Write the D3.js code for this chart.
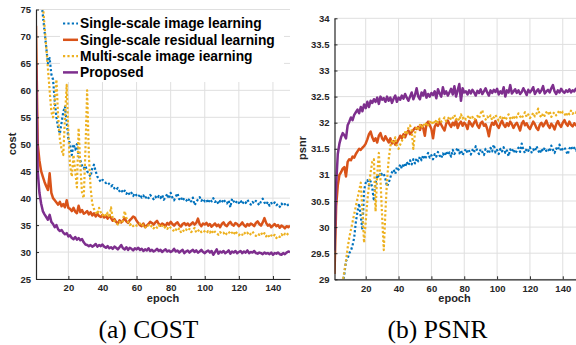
<!DOCTYPE html>
<html>
<head>
<meta charset="utf-8">
<script src="https://cdn.jsdelivr.net/npm/d3@7"></script>
<style>
  body { margin: 0; background: #fff; }
  svg { display: block; }
  text { font-family: "Liberation Sans", Arial, Helvetica, sans-serif; }
</style>
</head>
<body>
<svg id="chart" width="576" height="345"></svg>
<script>
// legend labels (typo "iearning" is in the original figure)
const seriesNames = ["Single-scale image learning", "Single-scale residual learning", "Multi-scale image iearning", "Proposed"];
const seriesColors = ["#0072BD", "#D95319", "#EDB120", "#7E2F8E"];
const seriesDotted = [true, false, true, false];

const epochTicks = [20, 40, 60, 80, 100, 120, 140];
const costTicks = [25, 30, 35, 40, 45, 50, 55, 60, 65, 70, 75];
const psnrTicks = [29, 29.5, 30, 30.5, 31, 31.5, 32, 32.5, 33, 33.5, 34];

// (a) cost per epoch, epochs 1..150
const costSingleImage = [
  92, 86, 81, 77, 74, 71, 68, 65, 66, 63,
  62, 58, 55, 53, 52, 54, 56, 57, 54, 51,
  50, 48, 50, 49, 50, 48, 47, 46, 45.5, 46,
  45, 44.5, 44, 45.5, 46.2, 45, 44, 43.5, 43, 43.4,
  43.2, 42.8, 43, 42.6, 42.2, 42.4, 41.8, 41.5, 41.9, 41.3,
  41.6, 41, 41.4, 40.8, 41.2, 40.6, 41, 40.4, 40.9, 40.5,
  40.2, 40.7, 40.1, 40.5, 39.9, 40.4, 40, 40.6, 40.2, 39.8,
  40.3, 39.9, 40.4, 40, 40.6, 39.7, 40.2, 40.8, 39.9, 41,
  40.1, 39.6, 40.3, 40.9, 39.8, 40.2, 39.5, 40, 39.7, 39.3,
  39.9, 39.4, 40.1, 38.7, 39.2, 39.8, 40.2, 39.5, 39.9, 39.4,
  39.7, 39.1, 39.8, 39.4, 40, 39.3, 39.6, 38.9, 39.5, 39.2,
  39.8, 39.3, 39, 39.6, 38.3, 39.9, 39.4, 39, 39.5, 39.1,
  39.6, 38.9, 39.4, 39.1, 39.7, 39.2, 38.8, 39.3, 39, 39.5,
  39.1, 38.7, 39.4, 39.9, 39.2, 38.8, 39.3, 38.6, 39.1, 38.8,
  39.2, 38.7, 38.9, 38.4, 39, 38.6, 38.9, 38.5, 38.8, 38.9
];
const costSingleResidual = [
  72, 50, 47, 45, 44, 43, 42.2, 41.5, 44.6, 41,
  40, 39.6, 39.2, 38.8, 39.3, 38.5, 38.9, 38.3, 39.6, 38.2,
  38, 37.6, 38.2, 37.5, 37.2, 38.6, 37.4, 37.8, 37.1, 37.3,
  37.6, 37, 37.4, 36.8, 37.2, 36.6, 37.1, 36.7, 36.5, 36.9,
  36.4, 36.7, 36.2, 36.8, 36.3, 35.8, 36.1, 35.6, 35.3, 35.9,
  35.5, 35.8, 36.3, 35.7, 35.4, 35.9, 36.2, 36.6, 36.4, 35.8,
  35.4, 35, 34.8, 35.3, 34.6, 34.9, 35.2, 35.6, 35.4, 35.1,
  35.5, 35.8, 35.2, 34.9, 35.3, 35.1, 34.8, 35.4, 35.1, 35.6,
  35.2, 34.9, 35.3, 35.5, 35, 34.7, 35.2, 35.4, 35, 35.3,
  34.9, 35.2, 35.5, 35.1, 35.4, 36.2, 35.2, 34.8, 35.3, 35.1,
  35.4, 34.9, 35.2, 34.7, 35, 35.3, 34.8, 35.1, 34.6, 35.2,
  35.5, 35, 34.8, 35.3, 35.6, 35.1, 34.9, 35.4, 35.2, 34.8,
  35.1, 35.5, 35, 34.7, 35.2, 34.9, 35.3, 35.1, 34.8, 35.4,
  35.7, 35.2, 34.9, 35.5, 36.3, 35.4, 34.9, 35.1, 34.6, 34.9,
  35.2, 34.8, 35, 34.5, 34.9, 34.7, 34.4, 34.8, 34.6, 34.9
];
const costMultiImage = [
  95, 90, 85, 80, 76, 72, 68, 64, 60, 56,
  55, 58, 62, 55, 51, 49, 48, 55, 61, 52,
  46, 44, 48, 45, 42, 53, 46, 41, 40, 49,
  60, 48, 42, 39, 38, 37.5, 37, 38.2, 37.4, 36.8,
  37.2, 36.6, 37.3, 36.4, 38.3, 36.2, 35.8, 35.4, 35.1, 35.6,
  35.3, 35.8, 37.6, 36.4, 35.6, 35, 35.3, 34.8, 35.1, 34.9,
  35, 35.3, 34.8, 35.1, 34.7, 34.5, 35, 34.6, 34.9, 34.4,
  34.8, 34.5, 35, 34.6, 34.9, 34.4, 34.7, 34.3, 34.8, 34.5,
  34.3, 33.8, 34.2, 33.9, 34.4, 33.7, 34.1, 33.8, 34.2, 33.9,
  34.3, 33.7, 34, 34.5, 33.6, 33.9, 34.2, 33.7, 34, 33.8,
  33.5, 33.9, 33.6, 34.1, 33.4, 33.8, 33.5, 33.2, 33.7, 33.4,
  33.6, 33.1, 33.5, 33.8, 33.3, 33.6, 33.2, 33.9, 33.4, 33.1,
  33.5, 33.2, 33.7, 33.3, 33.6, 33.1, 33.4, 33.8, 33.3, 33,
  33.4, 33.2, 33.6, 33.1, 33.5, 32.9, 33.3, 32.7, 33.1, 32.8,
  33.2, 32.6, 33, 32.8, 33.3, 32.9, 33.4, 33.1, 33.5, 33.6
];
const costProposed = [
  65, 45, 41, 39, 37.6, 37, 36.5, 36, 36.9, 35.6,
  35.2, 34.6, 35, 34.2, 33.9, 34.1, 33.6, 33.3, 33.5, 32.9,
  33.1, 32.6, 32.4, 32.8, 32.3, 32.6, 32.2, 32.4, 31.8, 31.4,
  31.3, 31.1, 31.3, 31, 31.2, 31.5, 31, 31.3, 31.1, 31.4,
  31, 30.8, 31.1, 30.7, 30.9, 30.6, 31, 30.8, 30.5, 30.9,
  31.3, 30.7, 30.5, 30.9, 30.4, 30.8, 30.6, 30.3, 30.7, 30.5,
  30.8, 30.4, 30.6, 30.2, 30.5, 30.3, 30.7, 30.2, 30.4, 30.1,
  30.3, 30.6, 30.2, 30.4, 30, 30.3, 30.5, 30.1, 30.3, 30,
  30.2, 30.6, 30.1, 30.3, 29.9, 30.2, 30.4, 29.8, 30.1, 30.3,
  29.9, 30.2, 30.4, 30, 30.3, 29.9, 30.1, 30.4, 30, 29.8,
  30.1, 30.3, 29.9, 30.2, 29.5, 30, 30.5, 29.7, 30.1, 29.9,
  30.2, 29.8, 30, 30.3, 29.7, 30.1, 29.9, 30.2, 29.8, 30,
  30.2, 29.8, 30.1, 29.9, 30.3, 29.8, 30, 29.9, 30.2, 29.8,
  29.7, 29.9, 29.8, 29.6, 29.9, 29.7, 29.8, 29.6, 29.9, 29.5,
  29.8, 29.7, 29.9, 29.6, 29.5, 29.8, 29.6, 29.9, 30.1, 30
];

// (b) psnr per epoch, epochs 1..150
const psnrSingleImage = [
  27.5, 27.8, 28.1, 28.4, 28.7, 28.9, 29.1, 29.35, 29.4, 29.5,
  29.55, 29.65, 29.8, 30.1, 30.3, 30.45, 30.2, 29.95, 30.7, 30.85,
  30.9, 30.8, 30.88, 30.75, 30.5, 30.85, 31, 30.95, 31.05, 31,
  31.02, 30.92, 30.78, 30.85, 30.95, 31.05, 31.1, 31.02, 31.15, 31.1,
  31.2, 31.12, 31.22, 31.15, 31.25, 31.18, 31.28, 31.2, 31.3, 31.22,
  31.32, 31.26, 31.35, 31.28, 31.38, 31.3, 31.36, 31.42, 31.33, 31.38,
  31.3, 31.4, 31.35, 31.44, 31.37, 31.32, 31.41, 31.36, 31.45, 31.38,
  31.43, 31.35, 31.48, 31.4, 31.46, 31.52, 31.41, 31.47, 31.38, 31.44,
  31.5, 31.42, 31.46, 31.39, 31.48, 31.43, 31.55, 31.45, 31.4, 31.49,
  31.44, 31.38, 31.5, 31.46, 31.41, 31.52, 31.45, 31.58, 31.43, 31.48,
  31.4, 31.5, 31.45, 31.53, 31.42, 31.47, 31.36, 31.49, 31.44, 31.5,
  31.41, 31.46, 31.52, 31.44, 31.6, 31.48, 31.42, 31.5, 31.46, 31.53,
  31.43, 31.49, 31.45, 31.55, 31.47, 31.41, 31.5, 31.45, 31.52, 31.46,
  31.5, 31.44, 31.56, 31.48, 31.42, 31.51, 31.47, 31.58, 31.45, 31.5,
  31.53, 31.46, 31.39, 31.5, 31.55, 31.48, 31.52, 31.47, 31.54, 31.5
];
const psnrSingleResidual = [
  29.1, 30.4, 30.8, 31, 31.05, 31.12, 31.15, 30.97, 31.25, 31.3,
  31.28, 31.35, 31.33, 31.4, 31.45, 31.5, 31.48, 31.52, 31.55, 31.6,
  31.68, 31.78, 31.83, 31.72, 31.65, 31.7, 31.62, 31.75, 31.8, 31.7,
  31.66, 31.74, 31.68, 31.62, 31.7, 31.6, 31.65, 31.58, 31.62, 31.68,
  31.75, 31.7, 31.78, 31.72, 31.8, 31.85, 31.78, 31.82, 31.86, 31.9,
  31.88, 31.92, 31.86, 31.95, 31.9, 31.75, 31.98, 32.02, 31.95, 31.88,
  31.7, 31.92, 31.98, 31.94, 32.02, 31.96, 31.9, 31.85, 31.98, 32.04,
  31.97, 31.92, 32, 31.95, 32.05, 31.9, 31.98, 32.02, 31.94, 32,
  31.96, 31.88, 32.03, 31.98, 31.93, 32, 32.05, 31.95, 31.9, 31.99,
  32.02, 31.94, 31.97, 31.88, 31.74, 31.92, 32, 31.96, 32.03, 31.95,
  31.9, 31.98, 32.04, 31.96, 31.92, 31.99, 31.94, 32.02, 31.97, 31.9,
  31.96, 32, 31.93, 31.85, 31.98, 32.03, 31.95, 31.99, 31.92, 31.88,
  31.95, 32.02, 31.97, 31.9, 31.86, 31.96, 32, 31.93, 31.98, 32.04,
  31.95, 31.9, 31.98, 31.94, 31.87, 31.97, 32.03, 31.96, 31.92, 32,
  32.05, 31.98, 31.94, 32.02, 31.96, 31.93, 31.99, 31.95, 31.97, 31.98
];
const psnrMultiImage = [
  27.5, 27.8, 28.1, 28.4, 28.7, 28.95, 29.15, 29.35, 29.6, 29.8,
  29.95, 30.1, 30.25, 30.4, 30.55, 30.7, 30.85, 30.3, 29.7, 30.1,
  30.5, 30.8, 31.05, 31.25, 31.3, 30.3, 31, 31.42, 30.9, 30.2,
  29.56, 30.3, 30.9, 31.3, 31.55, 31.65, 31.6, 31.72, 31.55, 31.5,
  31.58, 31.65, 31.72, 31.82, 31.78, 31.9, 31.95, 31.85, 31.5, 31.8,
  31.92, 31.88, 31.96, 31.9, 31.98, 31.93, 32, 31.95, 32.02, 31.97,
  32.04, 31.98, 32.06, 32, 32.08, 32.02, 32.05, 32.1, 32.03, 32.07,
  32.12, 32.05, 32.09, 32.15, 32.06, 32.1, 32.04, 32.16, 32.08, 32.12,
  32.06, 32.1, 32.14, 32.07, 32.11, 32.05, 32.09, 32.13, 32.08, 32.18,
  32.24, 32.1, 32.06, 32.12, 32.08, 32.14, 32.05, 32.1, 32.15, 32.09,
  32.04, 32.11, 32.07, 32.13, 32.05, 32.1, 32.16, 32.08, 32.12, 32.06,
  32.14, 32.1, 32.18, 32.12, 32.08, 32.15, 32.2, 32.11, 32.16, 32.09,
  32.13, 32.19, 32.12, 32.17, 32.27, 32.14, 32.1, 32.18, 32.13, 32.2,
  32.15, 32.22, 32.11, 32.17, 32.2, 32.14, 32.19, 32.24, 32.16, 32.21,
  32.18, 32.12, 32.2, 32.16, 32.23, 32.17, 32.21, 32.19, 32.24, 32.22
];
const psnrProposed = [
  29.55, 30.8, 31.4, 31.6, 31.72, 31.8, 31.76, 31.7, 31.95, 32.02,
  32.1, 32.05, 32.15, 32.2, 32.25, 32.18, 32.3, 32.22, 32.35, 32.28,
  32.4, 32.3, 32.42, 32.38, 32.45, 32.4, 32.48, 32.36, 32.5, 32.44,
  32.47, 32.4, 32.5, 32.42, 32.48, 32.38, 32.46, 32.52, 32.4, 32.48,
  32.44, 32.52, 32.46, 32.55, 32.48, 32.42, 32.5, 32.58, 32.45, 32.53,
  32.66, 32.5, 32.45, 32.58, 32.52, 32.62, 32.48, 32.55, 32.5, 32.57,
  32.53, 32.6, 32.47, 32.64, 32.56, 32.5, 32.68, 32.55, 32.6, 32.52,
  32.58, 32.65, 32.54, 32.7, 32.5, 32.62, 32.74, 32.42, 32.66, 32.58,
  32.6, 32.54, 32.62, 32.56, 32.63, 32.58, 32.52, 32.61, 32.57, 32.64,
  32.55, 32.6, 32.66, 32.58, 32.52, 32.62, 32.57, 32.63, 32.59, 32.65,
  32.54, 32.6, 32.56, 32.68, 32.5, 32.62, 32.58, 32.72, 32.56, 32.6,
  32.64, 32.57, 32.62, 32.55, 32.59, 32.66, 32.6, 32.53, 32.63, 32.58,
  32.62, 32.68, 32.55, 32.6, 32.64, 32.57, 32.62, 32.7, 32.56, 32.6,
  32.63, 32.58, 32.66, 32.72, 32.6, 32.55, 32.62, 32.58, 32.65, 32.6,
  32.57, 32.62, 32.59, 32.64, 32.58, 32.62, 32.6, 32.65, 32.6, 32.62
];

const svg = d3.select('#chart');
const axisColor = '#262626';
const gridColor = '#dfdfdf';

const panels = [
  { id: 'a', series: [costSingleImage, costSingleResidual, costMultiImage, costProposed],
    yDomain: [25, 75], yTicks: costTicks, left: 36, right: 290, top: 9.5, bottom: 279,
    yLabel: 'cost', yLabelX: 16, yLabelY: 144, xLabelX: 163, caption: '(a) COST', captionX: 148.5, legend: true },
  { id: 'b', series: [psnrSingleImage, psnrSingleResidual, psnrMultiImage, psnrProposed],
    yDomain: [29, 34], yTicks: psnrTicks, left: 334.5, right: 579.2, top: 18.3, bottom: 279.3,
    yLabel: 'psnr', yLabelX: 306, yLabelY: 148, xLabelX: 454.5, caption: '(b) PSNR', captionX: 437.5, legend: false }
];

panels.forEach(p => {
  const x = d3.scaleLinear().domain([1, 150]).range([p.left, p.right]);
  const y = d3.scaleLinear().domain(p.yDomain).range([p.bottom, p.top]);
  const g = svg.append('g');

  // grid
  g.append('g').selectAll('line').data(epochTicks).join('line')
    .attr('x1', d => x(d)).attr('x2', d => x(d))
    .attr('y1', p.top).attr('y2', p.bottom)
    .attr('stroke', gridColor).attr('stroke-width', 1);
  g.append('g').selectAll('line').data(p.yTicks).join('line')
    .attr('x1', p.left).attr('x2', p.right)
    .attr('y1', d => y(d)).attr('y2', d => y(d))
    .attr('stroke', gridColor).attr('stroke-width', 1);

  // clip to the plot box
  svg.append('clipPath').attr('id', 'clip-' + p.id)
    .append('rect').attr('x', p.left).attr('y', p.top)
    .attr('width', p.right - p.left).attr('height', p.bottom - p.top);

  const line = d3.line().x((d, i) => x(i + 1)).y(d => y(d));
  const lines = g.append('g').attr('clip-path', 'url(#clip-' + p.id + ')');
  p.series.forEach((s, k) => {
    lines.append('path')
      .attr('d', line(s))
      .attr('fill', 'none')
      .attr('stroke', seriesColors[k])
      .attr('stroke-width', seriesDotted[k] ? 2.2 : 2.5)
      .attr('stroke-linejoin', 'round')
      .attr('stroke-dasharray', seriesDotted[k] ? '2.2,2.2' : null);
  });

  // axes
  const xAxis = g.append('g').attr('transform', `translate(0,${p.bottom})`)
    .call(d3.axisBottom(x).tickValues(epochTicks).tickSize(-3).tickSizeOuter(0).tickPadding(5.5));
  const yAxis = g.append('g').attr('transform', `translate(${p.left},0)`)
    .call(d3.axisLeft(y).tickValues(p.yTicks).tickSize(-3).tickSizeOuter(0).tickPadding(5).tickFormat(d3.format('~g')));
  [xAxis, yAxis].forEach(a => {
    a.select('.domain').attr('stroke', axisColor).attr('stroke-width', 1.2);
    a.selectAll('.tick line').attr('stroke', axisColor);
    a.selectAll('.tick text').attr('fill', axisColor)
      .style('font-size', '9.5px').style('font-weight', 'bold')
      .style('font-family', '"Liberation Sans", Arial, sans-serif');
  });

  // axis titles
  g.append('text')
    .attr('x', p.xLabelX).attr('y', 302)
    .attr('text-anchor', 'middle')
    .attr('fill', axisColor)
    .style('font-size', '11px').style('font-weight', 'bold')
    .text('epoch');
  g.append('text')
    .attr('transform', `translate(${p.yLabelX},${p.yLabelY}) rotate(-90)`)
    .attr('text-anchor', 'middle')
    .attr('fill', axisColor)
    .style('font-size', '11px').style('font-weight', 'bold')
    .text(p.yLabel);

  // caption
  svg.append('text')
    .attr('x', p.captionX).attr('y', 338)
    .attr('text-anchor', 'middle')
    .attr('fill', '#000')
    .style('font-family', '"Liberation Serif", "Times New Roman", serif')
    .style('font-size', '25.5px')
    .text(p.caption);

  if (p.legend) {
    const lg = g.append('g');
    lg.append('rect').attr('x', 60).attr('y', 10).attr('width', 224).attr('height', 72).attr('fill', '#fff');
    seriesNames.forEach((name, k) => {
      const ly = 23.5 + k * 16.3;
      lg.append('line')
        .attr('x1', 63).attr('x2', 78).attr('y1', ly).attr('y2', ly)
        .attr('stroke', seriesColors[k]).attr('stroke-width', seriesDotted[k] ? 2.2 : 2.5)
        .attr('stroke-dasharray', seriesDotted[k] ? '2.2,2.2' : null);
      lg.append('text')
        .attr('x', 80).attr('y', ly).attr('dy', '0.36em')
        .attr('fill', '#000')
        .style('font-size', '13.8px').style('font-weight', 'bold')
        .text(name);
    });
  }
});
</script>
</body>
</html>
